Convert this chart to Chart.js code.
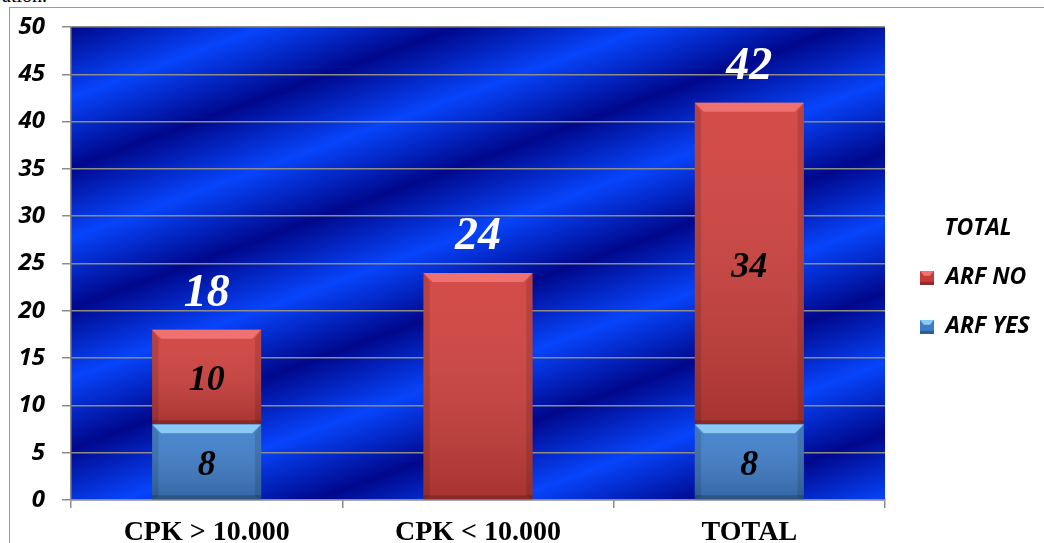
<!DOCTYPE html>
<html>
<head>
<meta charset="utf-8">
<title>ARF by CPK</title>
<script src="https://cdn.jsdelivr.net/npm/chart.js"></script>
<style>
  html, body { margin: 0; padding: 0; background: #fff; overflow: hidden; }
  #wrap { position: relative; width: 1044px; height: 543px; overflow: hidden; }
  #caption { position: absolute; left: 2px; top: -16px; font-family: 'Liberation Serif'; font-size: 20px; color: #000; }
  #frame { position: absolute; left: 9px; top: 7px; width: 1100px; height: 600px; border-left: 1px solid #9a9a9a; border-top: 1px solid #9a9a9a; }
  #chart { position: absolute; left: 0; top: 0; }
</style>
</head>
<body>
<div id="wrap">
  <div id="caption">ation.</div>
  <div id="frame"></div>
  <canvas id="chart" width="1044" height="543"></canvas>
</div>
<script>
const categories = ['CPK > 10.000', 'CPK < 10.000', 'TOTAL'];
const arfYes = [8, 0, 8];
const arfNo = [10, 24, 34];
const totals = [18, 24, 42];
const yMax = 50;
const yStep = 5;

const GRID = '#8c8c8c';

// little bevelled squares for the legend
function swatch(face, light) {
  const c = document.createElement('canvas');
  c.width = 14; c.height = 14;
  const x = c.getContext('2d');
  x.fillStyle = face; x.fillRect(0, 0, 14, 14);
  x.fillStyle = light;
  x.beginPath(); x.moveTo(0, 0); x.lineTo(14, 0); x.lineTo(10, 5); x.lineTo(4, 5); x.closePath(); x.fill();
  x.fillStyle = 'rgba(0,0,0,0.25)';
  x.fillRect(0, 11, 14, 3);
  return c;
}
const swatches = [swatch('#3f7cc6', '#8ccaf5'), swatch('#c63a38', '#ef7472')];

// diagonal blue stripes behind the plot
const stripes = {
  id: 'stripes',
  beforeDraw(chart) {
    const { ctx, chartArea: a } = chart;
    const ang = 20 * Math.PI / 180;
    const dx = Math.sin(ang), dy = Math.cos(ang);
    const len = (a.right - a.left) * dx + (a.bottom - a.top) * dy;
    const g = ctx.createLinearGradient(a.left, a.top, a.left + dx * len, a.top + dy * len);
    const half = 66;
    for (let i = 0; i * half <= len + half; i++) {
      g.addColorStop(Math.min(1, i * half / len), i % 2 ? '#0744fb' : '#00088c');
    }
    ctx.save();
    ctx.fillStyle = g;
    ctx.fillRect(a.left, a.top, a.right - a.left, a.bottom - a.top);
    ctx.restore();
  }
};

// pin the legend column where the original has it
const legendPlace = {
  id: 'legendPlace',
  beforeUpdate(chart) {
    const lg = chart.legend;
    if (lg && !lg._pinned) {
      const fit = lg.fit;
      lg.fit = function () { fit.call(this); this.width = 159; };
      lg._pinned = true;
    }
  },
  afterLayout(chart) {
    const lg = chart.legend;
    const a = chart.chartArea;
    lg.left = 894; lg.width = 168; lg.right = lg.left + lg.width;
    lg.top = a.top; lg.bottom = a.bottom; lg.height = lg.bottom - lg.top;
  }
};

// bevel on bars + value labels
const barDeco = {
  id: 'barDeco',
  afterDatasetsDraw(chart) {
    const ctx = chart.ctx;
    const yScale = chart.scales.y;
    const tops = ['#8ccaf5', '#ef7270'];
    ctx.save();
    chart.data.datasets.forEach((ds, di) => {
      const meta = chart.getDatasetMeta(di);
      meta.data.forEach((bar, i) => {
        if (!ds.data[i]) return;
        const l = bar.x - bar.width / 2, r = bar.x + bar.width / 2;
        const t = Math.min(bar.y, bar.base), b = Math.max(bar.y, bar.base);
        const h = b - t, e = Math.min(9, h / 3);
        const g = ctx.createLinearGradient(0, t, 0, b);
        g.addColorStop(0, 'rgba(255,255,255,0.06)');
        g.addColorStop(1, 'rgba(0,0,0,0.2)');
        ctx.fillStyle = g;
        ctx.fillRect(l, t, r - l, h);
        ctx.fillStyle = tops[di];
        ctx.beginPath(); ctx.moveTo(l, t); ctx.lineTo(r, t); ctx.lineTo(r - e, t + e); ctx.lineTo(l + e, t + e); ctx.closePath(); ctx.fill();
        ctx.fillStyle = 'rgba(0,0,0,0.12)';
        ctx.beginPath(); ctx.moveTo(l, t); ctx.lineTo(l + e * 0.7, t + e); ctx.lineTo(l + e * 0.7, b - 3); ctx.lineTo(l, b); ctx.closePath(); ctx.fill();
        ctx.beginPath(); ctx.moveTo(r, t); ctx.lineTo(r - e * 0.7, t + e); ctx.lineTo(r - e * 0.7, b - 3); ctx.lineTo(r, b); ctx.closePath(); ctx.fill();
        ctx.fillStyle = 'rgba(0,0,0,0.18)';
        ctx.fillRect(l, b - 4, r - l, 4);

        // inner value, skipped when the segment is the whole bar
        if (ds.data[i] !== totals[i]) {
          ctx.fillStyle = '#000';
          ctx.font = 'italic bold 36px "Liberation Serif"';
          ctx.textAlign = 'center';
          ctx.textBaseline = 'alphabetic';
          ctx.fillText(String(ds.data[i]), bar.x, (t + b) / 2 + 13);
        }
      });
    });
    // totals on top
    const meta0 = chart.getDatasetMeta(0);
    ctx.fillStyle = '#fff';
    ctx.font = 'italic bold 46px "Liberation Serif"';
    ctx.textAlign = 'center';
    ctx.textBaseline = 'alphabetic';
    totals.forEach((v, i) => {
      ctx.fillText(String(v), meta0.data[i].x, yScale.getPixelForValue(v) - 24);
    });
    ctx.restore();
  }
};

new Chart(document.getElementById('chart'), {
  type: 'bar',
  data: {
    labels: categories,
    datasets: [
      { label: 'ARF YES', data: arfYes, backgroundColor: '#3f7fcb', borderWidth: 0 },
      { label: 'ARF NO', data: arfNo, backgroundColor: '#d0403d', borderWidth: 0 }
    ]
  },
  options: {
    responsive: false,
    animation: false,
    devicePixelRatio: 1,
    layout: { padding: { top: 27, left: 0, right: 0, bottom: 0 } },
    datasets: { bar: { categoryPercentage: 1, barPercentage: 0.402 } },
    scales: {
      x: {
        stacked: true,
        afterFit(s) { s.height = 43; s.paddingLeft = 0; s.paddingRight = 0; },
        grid: { drawOnChartArea: false, tickLength: 8, color: GRID, lineWidth: 1.5, offset: true },
        border: { color: GRID, width: 1.5 },
        ticks: { padding: 8, color: '#000', font: { family: 'Liberation Serif', size: 28, weight: 'bold' } }
      },
      y: {
        stacked: true,
        min: 0, max: yMax,
        afterFit(s) { s.width = 71; s.paddingTop = 0; s.paddingBottom = 0; },
        grid: { color: GRID, lineWidth: 1.5, tickLength: 9 },
        border: { color: GRID, width: 1.5 },
        ticks: { stepSize: yStep, padding: 17, color: '#000', font: { family: 'Open Sans', size: 24, weight: 'bold', style: 'italic' } }
      }
    },
    plugins: {
      tooltip: { enabled: false },
      legend: {
        position: 'right',
        reverse: true,
        title: {
          display: true, text: 'TOTAL', color: '#000',
          padding: { top: 54, bottom: -4 },
          font: { family: 'Open Sans', size: 23, weight: 'bold', style: 'italic' }
        },
        labels: {
          usePointStyle: true, boxWidth: 14, boxHeight: 14, padding: 26, color: '#000',
          font: { family: 'Open Sans', size: 23, weight: 'bold', style: 'italic' },
          generateLabels(chart) {
            const items = Chart.defaults.plugins.legend.labels.generateLabels(chart);
            items.forEach(it => { it.pointStyle = swatches[it.datasetIndex]; });
            return items;
          }
        }
      }
    }
  },
  plugins: [stripes, legendPlace, barDeco]
});
</script>
</body>
</html>
